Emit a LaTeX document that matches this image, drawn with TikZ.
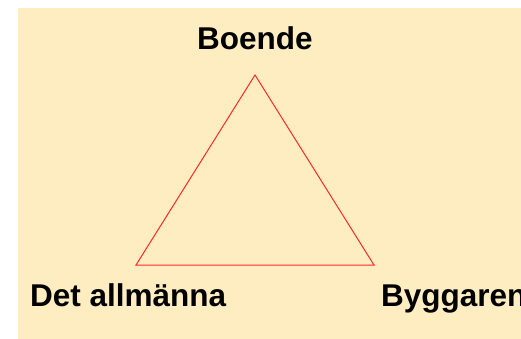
\documentclass[tikz,border=0pt]{standalone}
\usepackage{fontspec}
\setmainfont{Liberation Sans}
\definecolor{bg}{RGB}{254,237,193}
\definecolor{tri}{RGB}{255,40,40}
\begin{document}
\begin{tikzpicture}[x=1pt,y=-1pt,
  lbl/.style={font=\bfseries\fontsize{31.5}{36}\selectfont, inner sep=0pt, anchor=base west}]
\useasboundingbox (0,0) rectangle (521,339);
\clip (0,0) rectangle (521,339);
\fill[bg] (18,8) rectangle (521,339);
\coordinate (top) at (255,75);
\coordinate (bl) at (136,265);
\coordinate (br) at (374,265);
\draw[tri, line width=1pt, line join=miter] (top) -- (br) -- (bl) -- cycle;
\node[lbl] (boende) at (197,50) {Boende};
\node[lbl] (allm) at (30,306) {Det allmänna};
\node[lbl] (bygg) at (381,306) {Byggaren};
\end{tikzpicture}
\end{document}
